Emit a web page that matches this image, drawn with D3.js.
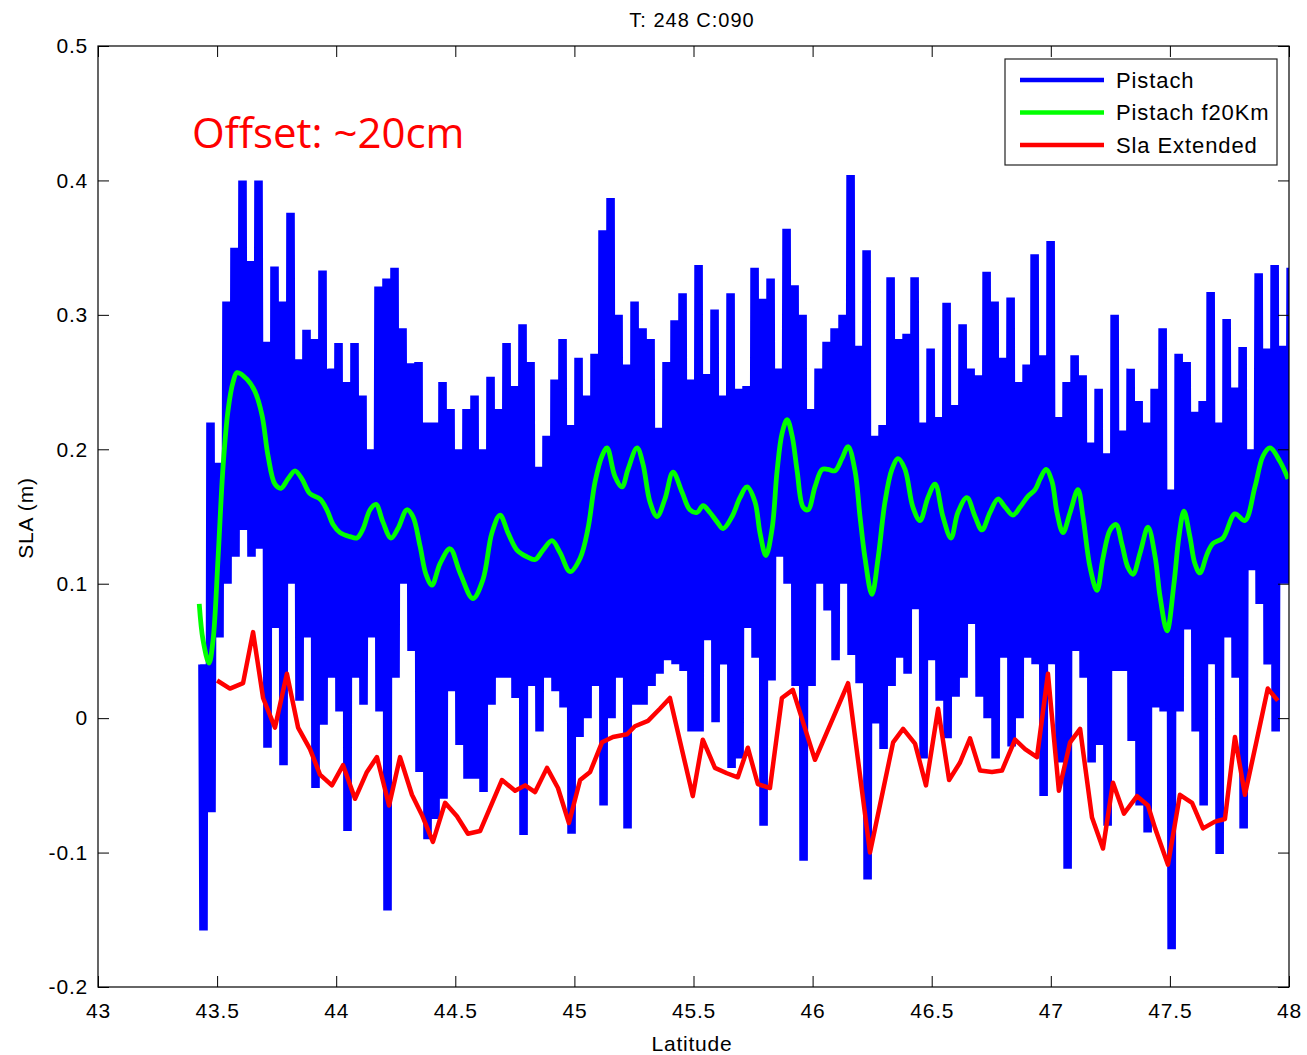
<!DOCTYPE html>
<html><head><meta charset="utf-8">
<script src="https://cdn.jsdelivr.net/npm/d3@7"></script>
<style>body{margin:0;background:#fff}svg{display:block}</style>
</head><body><svg id="c" width="1307" height="1055"></svg>
<script>
const titleText = "T: 248 C:090";
const xLabel = "Latitude";
const yLabel = "SLA (m)";
const annotation = "Offset: ~20cm";
const xTicks = [43, 43.5, 44, 44.5, 45, 45.5, 46, 46.5, 47, 47.5, 48];
const yTicks = [-0.2, -0.1, 0, 0.1, 0.2, 0.3, 0.4, 0.5];
const seriesNames = ["Pistach", "Pistach f20Km", "Sla Extended"];

// Pistach (20 Hz): upper and lower extremes of the dense signal, read per narrow latitude bin
const blueLatStart = 43.424, blueBinWidth = 0.03359, blueSamplesPerBin = 8;
const blueTop = [0.04,0.22,0.19,0.31,0.35,0.40,0.34,0.40,0.28,0.336,0.31,0.376,0.267,0.289,0.282,0.333,0.26,0.279,0.25,0.279,
0.24,0.20,0.321,0.327,0.335,0.29,0.264,0.265,0.22,0.22,0.25,0.23,0.20,0.23,0.24,0.20,0.254,0.23,0.279,0.247,
0.293,0.265,0.187,0.21,0.252,0.282,0.218,0.268,0.24,0.271,0.363,0.387,0.30,0.263,0.31,0.29,0.282,0.216,0.265,0.296,
0.316,0.252,0.337,0.256,0.304,0.24,0.316,0.245,0.247,0.335,0.312,0.327,0.26,0.364,0.322,0.30,0.23,0.26,0.28,0.29,
0.30,0.404,0.277,0.348,0.21,0.218,0.328,0.282,0.286,0.328,0.22,0.275,0.224,0.309,0.233,0.293,0.26,0.255,0.332,0.31,
0.268,0.313,0.25,0.263,0.345,0.27,0.355,0.224,0.25,0.27,0.255,0.205,0.245,0.197,0.30,0.214,0.26,0.236,0.22,0.245,
0.29,0.17,0.271,0.265,0.228,0.236,0.317,0.22,0.297,0.246,0.276,0.20,0.331,0.275,0.337,0.277,0.335];
const blueBottom = [-0.158,-0.07,0.06,0.10,0.12,0.14,0.12,0.126,-0.022,0.067,-0.035,0.10,0.013,0.06,-0.052,-0.005,0.03,0.005,-0.084,0.03,
0.01,0.06,0.005,-0.143,0.03,0.10,0.05,-0.04,-0.09,-0.075,-0.06,0.02,-0.02,-0.045,-0.045,-0.055,0.01,0.03,0.03,0.015,
-0.087,0.024,-0.01,0.03,0.02,0.008,-0.086,-0.014,0.0,0.024,-0.065,0.0,0.03,-0.082,0.01,0.01,0.024,0.033,0.043,0.04,
0.035,-0.01,-0.01,0.058,-0.003,0.04,-0.037,-0.03,0.067,0.045,-0.08,0.028,0.12,0.10,0.024,-0.106,0.024,0.10,0.08,0.043,
0.10,0.047,0.026,-0.12,-0.004,-0.023,0.024,0.045,0.033,0.081,-0.03,0.043,0.013,-0.015,0.016,0.03,0.07,0.016,0.0,-0.03,
0.045,-0.021,0.0,0.045,0.04,-0.058,0.04,-0.033,-0.112,0.05,0.03,-0.033,-0.02,-0.08,0.035,0.035,-0.017,-0.065,-0.085,0.008,
0.005,-0.172,0.005,0.066,-0.01,-0.065,0.04,-0.101,0.06,0.03,-0.082,0.11,0.085,0.04,-0.01,0.10,0.10];

// Pistach f20Km (filtered)
const greenLat = [43.425,43.441,43.466,43.483,43.504,43.525,43.546,43.567,43.584,43.626,43.659,43.689,43.714,43.743,43.768,43.798,43.827,43.856,43.890,43.932,
43.961,43.987,44.016,44.058,44.087,44.113,44.142,44.167,44.196,44.230,44.259,44.297,44.322,44.352,44.377,44.402,44.436,44.478,44.520,44.574,
44.616,44.654,44.688,44.721,44.759,44.801,44.835,44.868,44.906,44.940,44.982,45.024,45.057,45.087,45.116,45.137,45.170,45.200,45.225,45.263,
45.288,45.317,45.347,45.380,45.414,45.452,45.485,45.515,45.540,45.569,45.599,45.624,45.662,45.695,45.725,45.758,45.779,45.804,45.830,45.851,
45.872,45.893,45.914,45.935,45.960,45.981,46.010,46.040,46.065,46.094,46.123,46.149,46.178,46.199,46.220,46.249,46.275,46.304,46.333,46.359,
46.388,46.421,46.451,46.484,46.514,46.547,46.581,46.610,46.648,46.682,46.711,46.745,46.778,46.808,46.841,46.871,46.904,46.934,46.955,46.980,
47.005,47.026,47.051,47.081,47.114,47.135,47.165,47.194,47.219,47.249,47.274,47.299,47.324,47.345,47.375,47.408,47.438,47.459,47.488,47.517,
47.538,47.559,47.584,47.605,47.626,47.656,47.681,47.723,47.773,47.815,47.857,47.891,47.920,47.962,47.996];
const greenVal = [0.085,0.058,0.041,0.058,0.119,0.187,0.229,0.250,0.257,0.252,0.243,0.225,0.195,0.174,0.171,0.178,0.184,0.178,0.167,0.163,
0.155,0.144,0.138,0.135,0.134,0.141,0.155,0.159,0.146,0.134,0.141,0.155,0.150,0.128,0.107,0.099,0.115,0.126,0.108,0.089,
0.103,0.138,0.151,0.138,0.125,0.120,0.118,0.125,0.132,0.123,0.109,0.119,0.141,0.176,0.195,0.201,0.180,0.172,0.185,0.201,
0.189,0.161,0.150,0.163,0.183,0.168,0.155,0.153,0.158,0.153,0.146,0.141,0.150,0.164,0.172,0.161,0.138,0.121,0.141,0.184,
0.212,0.222,0.210,0.184,0.157,0.155,0.172,0.185,0.185,0.184,0.193,0.202,0.184,0.150,0.119,0.092,0.119,0.161,0.185,0.193,
0.185,0.157,0.147,0.164,0.174,0.150,0.134,0.153,0.164,0.150,0.140,0.153,0.163,0.157,0.151,0.157,0.165,0.170,0.178,0.185,
0.176,0.153,0.138,0.153,0.170,0.150,0.112,0.095,0.119,0.140,0.144,0.129,0.112,0.107,0.123,0.142,0.120,0.090,0.065,0.100,
0.135,0.154,0.135,0.115,0.108,0.122,0.130,0.134,0.152,0.147,0.172,0.195,0.201,0.191,0.178];

// Sla Extended
const redLat = [43.500,43.554,43.609,43.651,43.693,43.743,43.793,43.840,43.890,43.932,43.982,44.029,44.079,44.129,44.171,44.222,44.268,44.318,44.360,44.406,
44.457,44.507,44.553,44.604,44.696,44.751,44.793,44.835,44.885,44.931,44.977,45.024,45.066,45.116,45.162,45.221,45.254,45.309,45.359,45.401,
45.497,45.539,45.590,45.640,45.686,45.728,45.770,45.821,45.871,45.917,46.010,46.149,46.241,46.338,46.380,46.430,46.476,46.527,46.573,46.619,
46.661,46.703,46.753,46.795,46.850,46.892,46.942,46.988,47.034,47.081,47.123,47.173,47.219,47.261,47.307,47.362,47.408,47.438,47.492,47.542,
47.593,47.639,47.689,47.731,47.773,47.815,47.865,47.911,47.953];
const redVal = [0.028,0.022,0.026,0.064,0.015,-0.007,0.033,-0.007,-0.023,-0.042,-0.050,-0.035,-0.060,-0.040,-0.029,-0.065,-0.029,-0.057,-0.072,-0.092,
-0.063,-0.073,-0.086,-0.084,-0.046,-0.054,-0.050,-0.055,-0.037,-0.052,-0.078,-0.046,-0.040,-0.018,-0.014,-0.012,-0.006,-0.002,0.007,0.015,
-0.058,-0.016,-0.037,-0.041,-0.044,-0.022,-0.049,-0.052,0.015,0.021,-0.031,0.026,-0.100,-0.018,-0.008,-0.019,-0.050,0.007,-0.046,-0.033,
-0.015,-0.039,-0.040,-0.039,-0.016,-0.023,-0.029,0.033,-0.054,-0.018,-0.008,-0.074,-0.097,-0.048,-0.071,-0.058,-0.065,-0.082,-0.109,-0.057,
-0.063,-0.082,-0.077,-0.075,-0.014,-0.057,-0.016,0.022,0.013];

const colors = ["#0000ff", "#00ff00", "#ff0000"];

// build tables: each bin is drawn as the dense signal swinging between its extremes
const blue = [];
for (let k = 0; k < blueTop.length; k++) {
  for (let j = 0; j < blueSamplesPerBin; j++) {
    const lat = blueLatStart + blueBinWidth * (k + (j + 0.5) / blueSamplesPerBin);
    blue.push([lat, j % 2 === 0 ? blueTop[k] : blueBottom[k]]);
  }
}
const green = greenLat.map((d, i) => [d, greenVal[i]]);
const red = redLat.map((d, i) => [d, redVal[i]]);

const M = {left: 98, right: 1289, top: 46, bottom: 987};
const svg = d3.select("#c");
const x = d3.scaleLinear().domain([43, 48]).range([M.left, M.right]);
const y = d3.scaleLinear().domain([-0.2, 0.5]).range([M.bottom, M.top]);
const font = "'Liberation Sans', Arial, sans-serif";

svg.append("defs").append("clipPath").attr("id", "clip")
  .append("rect").attr("x", M.left).attr("y", M.top).attr("width", M.right - M.left).attr("height", M.bottom - M.top);

const g = svg.append("g").attr("clip-path", "url(#clip)");
g.append("path").datum(blue).attr("d", d3.line().x(d => x(d[0])).y(d => y(d[1])))
  .attr("fill", "none").attr("stroke", colors[0])
  .attr("stroke-width", 2.6).attr("stroke-linejoin", "bevel");
g.append("path").datum(green).attr("d", d3.line().curve(d3.curveCatmullRom.alpha(0.5)).x(d => x(d[0])).y(d => y(d[1])))
  .attr("fill", "none").attr("stroke", colors[1])
  .attr("stroke-width", 4.8).attr("stroke-linejoin", "round");
g.append("path").datum(red).attr("d", d3.line().x(d => x(d[0])).y(d => y(d[1])))
  .attr("fill", "none").attr("stroke", colors[2])
  .attr("stroke-width", 4.5).attr("stroke-linejoin", "round");

// axes
function styleAxis(sel) {
  sel.select(".domain").remove();
  sel.selectAll(".tick line").attr("stroke", "#000").attr("stroke-width", 1);
  sel.selectAll(".tick text").attr("fill", "#000").style("font-family", font).style("font-size", "21px").style("letter-spacing", "0.8px");
}
const fmt = d => String(+d.toFixed(2));
svg.append("g").attr("transform", `translate(0,${M.bottom})`)
  .call(d3.axisBottom(x).tickValues(xTicks).tickFormat(fmt).tickSizeInner(-11).tickSizeOuter(0).tickPadding(16)).call(styleAxis);
svg.append("g").attr("transform", `translate(0,${M.top})`)
  .call(d3.axisTop(x).tickValues(xTicks).tickFormat("").tickSizeInner(-11).tickSizeOuter(0)).call(styleAxis);
svg.append("g").attr("transform", `translate(${M.left},0)`)
  .call(d3.axisLeft(y).tickValues(yTicks).tickFormat(fmt).tickSizeInner(-11).tickSizeOuter(0).tickPadding(10)).call(styleAxis);
svg.append("g").attr("transform", `translate(${M.right},0)`)
  .call(d3.axisRight(y).tickValues(yTicks).tickFormat("").tickSizeInner(-11).tickSizeOuter(0)).call(styleAxis);

svg.append("rect").attr("x", M.left).attr("y", M.top).attr("width", M.right - M.left).attr("height", M.bottom - M.top)
  .attr("fill", "none").attr("stroke", "#000").attr("stroke-width", 1.2);

// titles
svg.append("text").attr("x", 692).attr("y", 27).attr("text-anchor", "middle")
  .style("font-family", font).style("font-size", "20px").style("letter-spacing", "1px").text(titleText);
svg.append("text").attr("x", 692).attr("y", 1051).attr("text-anchor", "middle")
  .style("font-family", font).style("font-size", "21px").style("letter-spacing", "0.8px").text(xLabel);
svg.append("text").attr("transform", "translate(33,518) rotate(-90)").attr("text-anchor", "middle")
  .style("font-family", font).style("font-size", "21px").style("letter-spacing", "0.8px").text(yLabel);

// annotation
svg.append("text").attr("x", 192).attr("y", 148).attr("fill", "#ff0000")
  .style("font-family", "'Open Sans', 'Noto Sans', sans-serif").style("font-size", "42px").text(annotation);

// legend
const lg = svg.append("g");
lg.append("rect").attr("x", 1005).attr("y", 59).attr("width", 272).attr("height", 106)
  .attr("fill", "#fff").attr("stroke", "#222").attr("stroke-width", 1.2);
const rowsY = [80, 112.5, 145];
seriesNames.forEach((name, i) => {
  lg.append("line").attr("x1", 1020).attr("x2", 1104).attr("y1", rowsY[i]).attr("y2", rowsY[i])
    .attr("stroke", colors[i]).attr("stroke-width", 4.5);
  lg.append("text").attr("x", 1116).attr("y", rowsY[i]).attr("dy", "0.36em")
    .style("font-family", font).style("font-size", "22px").style("letter-spacing", "0.9px").text(name);
});
</script></body></html>
